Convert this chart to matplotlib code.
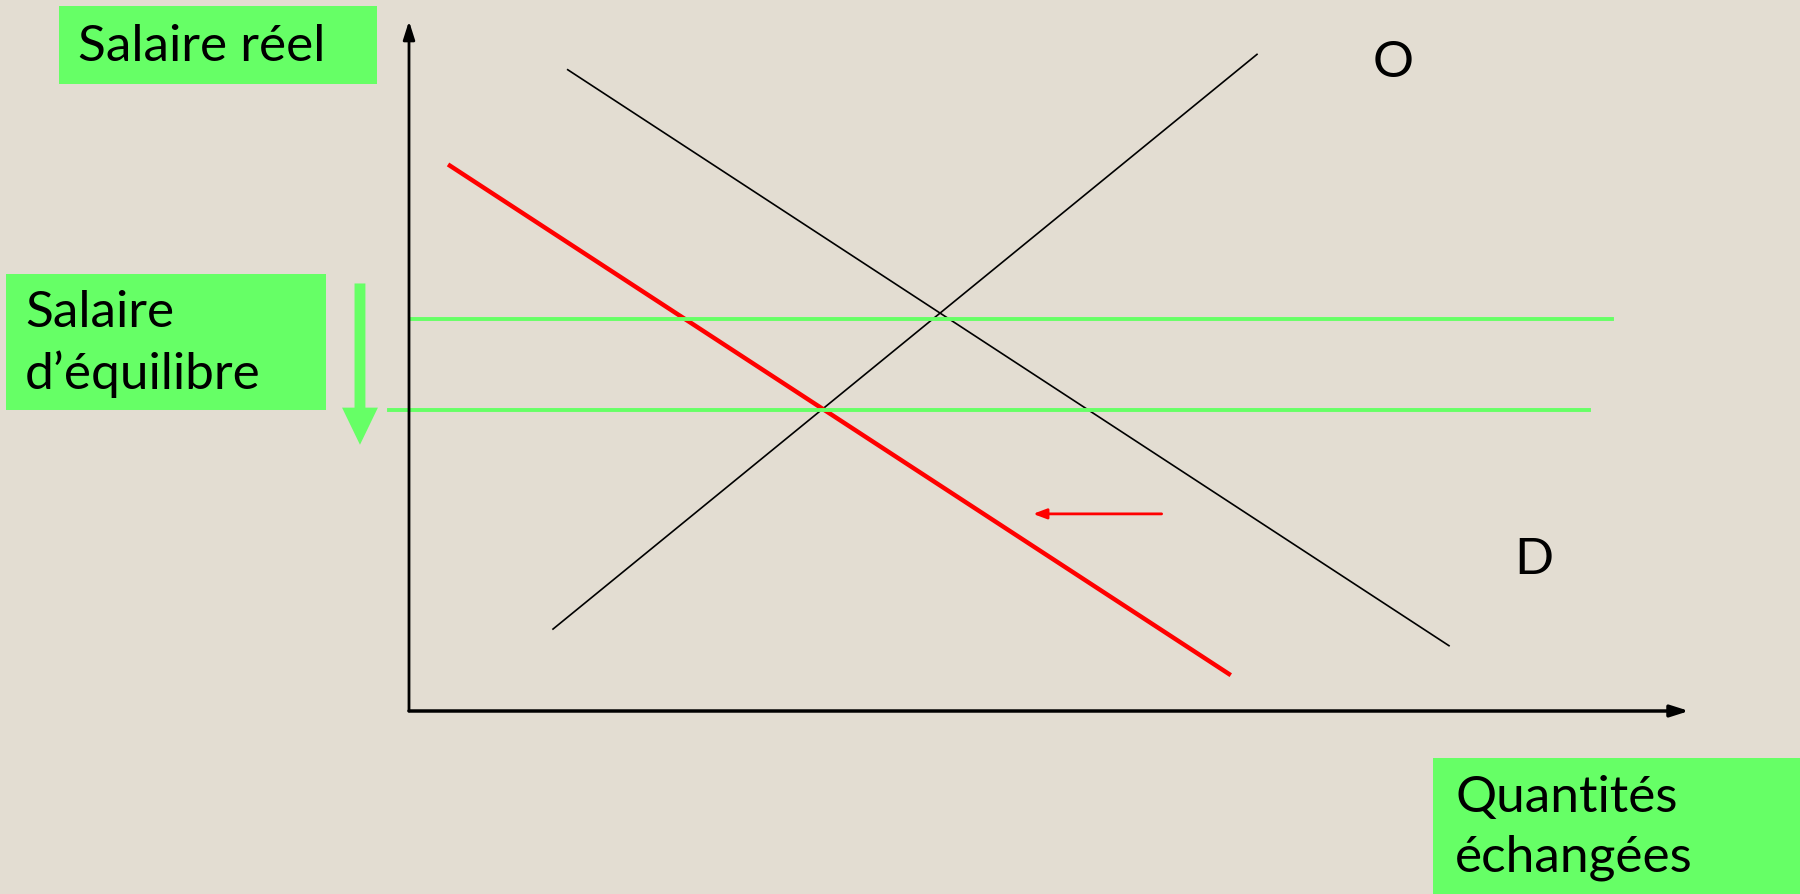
import matplotlib.pyplot as plt
from matplotlib.patches import Rectangle, FancyArrow

# diagram values (quantity, real wage), arbitrary units
supply_q = [11.25, 66.25]
supply_w = [6.4, 51.3]
demand_q = [12.4, 81.25]
demand_w = [50.1, 5.1]
new_demand_q = [3.05, 64.2]
new_demand_w = [42.7, 2.8]

wage_eq = 30.6
wage_eq_q = [0.15, 94.0]
wage_new = 23.5
wage_new_q = [-1.56, 92.2]

x_axis_len = 100
y_axis_len = 53.9

shift_q = [58.8, 48.75]
shift_w = 15.4
drop_q = -3.83
drop_w = [33.4, 20.8]

bg = '#e3ddd2'
green = '#66ff66'
W, H = 1800, 894
s = 12.8  # px per unit
ox, oy = 409, 711

fig = plt.figure(figsize=(W / 100, H / 100), dpi=100, facecolor=bg)
ax = fig.add_axes([0, 0, 1, 1])
ax.set_facecolor(bg)
ax.set_xlim(-ox / s, (W - ox) / s)
ax.set_ylim(-(H - oy) / s, oy / s)
ax.axis('off')

font = ['Lato', 'DejaVu Sans']
fs = 37

# axes with arrow heads
ax.annotate('', xy=(0, y_axis_len), xytext=(0, 0),
            arrowprops=dict(arrowstyle='-|>,head_width=0.35,head_length=1.1',
                            color='black', lw=2, shrinkA=0, shrinkB=0))
ax.annotate('', xy=(x_axis_len, 0), xytext=(0, 0),
            arrowprops=dict(arrowstyle='-|>,head_width=0.35,head_length=1.1',
                            color='black', lw=2.5, shrinkA=0, shrinkB=0))

# curves
ax.plot(supply_q, supply_w, color='black', lw=1.2)
ax.plot(demand_q, demand_w, color='black', lw=1.2)
ax.plot(new_demand_q, new_demand_w, color='#ff0000', lw=3.2, solid_capstyle='butt')

ax.plot(wage_eq_q, [wage_eq, wage_eq], color=green, lw=2.8)
ax.plot(wage_new_q, [wage_new, wage_new], color=green, lw=2.8)

# shift arrows
ax.annotate('', xy=(shift_q[1], shift_w), xytext=(shift_q[0], shift_w),
            arrowprops=dict(arrowstyle='-|>,head_width=0.3,head_length=0.8',
                            color='#ff0000', lw=2, shrinkA=0, shrinkB=0))
ax.add_patch(FancyArrow(drop_q, drop_w[0], 0, drop_w[1] - drop_w[0],
                        width=0.85, head_width=2.8, head_length=2.9,
                        length_includes_head=True, color=green, lw=0))

ax.text(1393 / s - ox / s, (oy - 63) / s, 'O', fontsize=fs, family=font,
        ha='center', va='center')
ax.text(1534 / s - ox / s, (oy - 560) / s, 'D', fontsize=fs, family=font,
        ha='center', va='center')


def box(x0, y0, x1, y1):
    fig.add_artist(Rectangle((x0 / W, 1 - y1 / H), (x1 - x0) / W, (y1 - y0) / H,
                             transform=fig.transFigure, color=green, lw=0))


def label(x, y, txt):
    fig.text(x / W, 1 - y / H, txt, fontsize=fs, family=font,
             ha='left', va='center')


box(59, 6, 377, 84)
label(78, 47, 'Salaire réel')

box(6, 274, 326, 410)
label(25, 313, 'Salaire')
label(25, 374, 'd\u2019équilibre')

box(1433, 758, 1800, 894)
label(1455, 798, 'Quantités')
label(1455, 858, 'échangées')

fig.savefig('out.png', dpi=100, facecolor=bg)
